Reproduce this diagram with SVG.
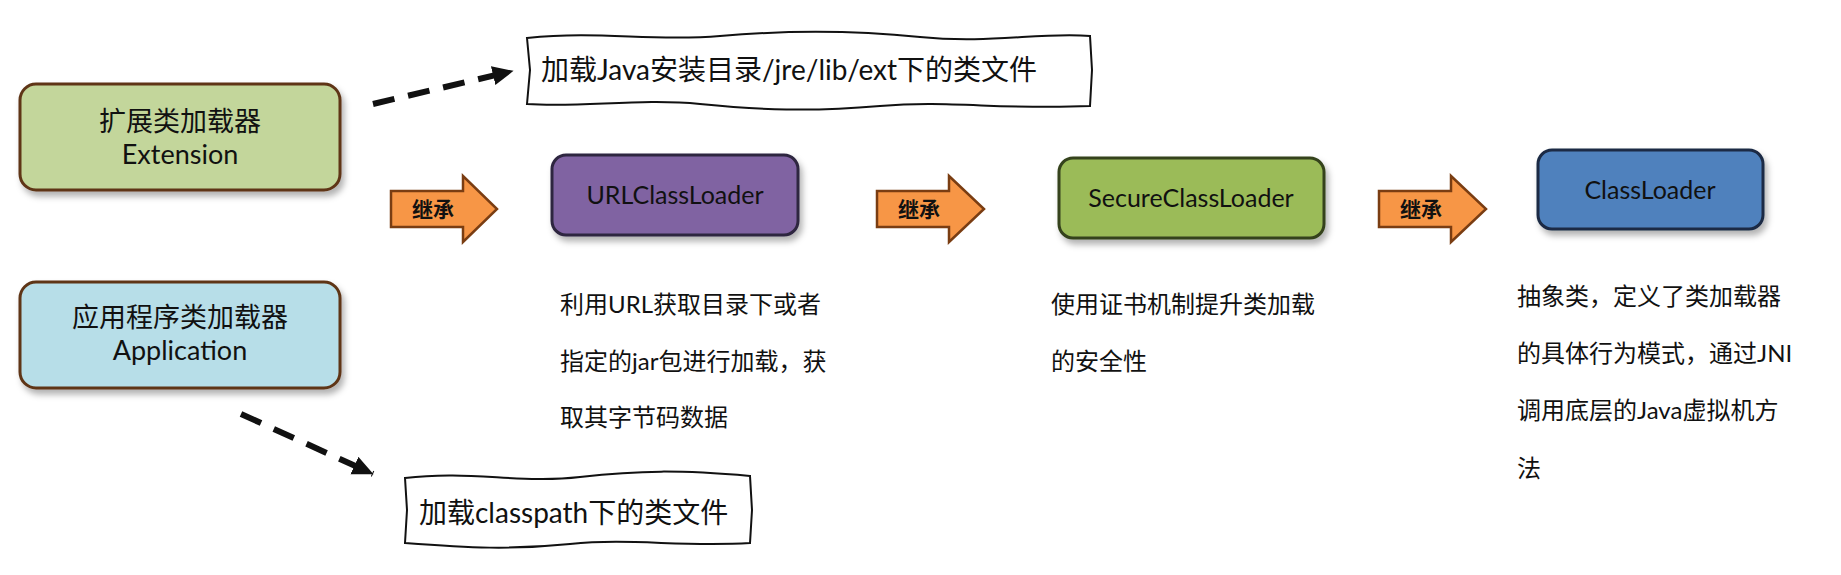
<svg xmlns="http://www.w3.org/2000/svg" width="1841" height="575" viewBox="0 0 1841 575">
<defs>
<filter id="sh" x="-10%" y="-10%" width="130%" height="140%">
<feDropShadow dx="3" dy="5" stdDeviation="3" flood-color="#000" flood-opacity="0.3"/>
</filter>
<marker id="ah" markerWidth="4" markerHeight="4" refX="3.4" refY="1.6" orient="auto" markerUnits="strokeWidth">
<path d="M0,0 L3.5,1.6 L0,3.2 Z" fill="#111"/>
</marker>
<style>
.t{font-family:Lato,"Noto Sans CJK SC",sans-serif;fill:#111}
.c{text-anchor:middle}
.lb{font-size:27px}
.nb{font-size:25px}
.d{font-size:24px}
.sk{fill:#fff;stroke:#111;stroke-width:2}
.dash{fill:none;stroke:#111;stroke-width:6;stroke-dasharray:22 14}
.inh{fill:#f79646;stroke:#7a3d12;stroke-width:2.5}
.it{font-family:"Noto Sans CJK SC",sans-serif;font-weight:bold;font-size:21px;fill:#111;text-anchor:middle}
</style>
</defs>
<rect width="1841" height="575" fill="#fff"/>

<g id="connectors">
<path class="dash" d="M373,104 L513,71" marker-end="url(#ah)"/>
<path class="dash" d="M241,414 L373,474" marker-end="url(#ah)"/>
<g id="inh1"><path class="inh" d="M391,191 L463,191 L463,176 L497,209 L463,242 L463,227 L391,227 Z"/><text class="it" x="433" y="217">继承</text></g>
<g id="inh2"><path class="inh" d="M877,191 L949,191 L949,176 L984,209 L949,242 L949,227 L877,227 Z"/><text class="it" x="919" y="217">继承</text></g>
<g id="inh3"><path class="inh" d="M1379,191 L1451,191 L1451,176 L1486,209 L1451,242 L1451,227 L1379,227 Z"/><text class="it" x="1421" y="217">继承</text></g>
</g>

<g id="extension">
<rect x="20" y="84" width="320" height="106" rx="16" fill="#c3d69b" stroke="#5e3517" stroke-width="3" filter="url(#sh)"/>
<text class="t c lb" x="180" y="131">扩展类加载器</text>
<text class="t c lb" x="180" y="164">Extension</text>
</g>

<g id="application">
<rect x="20" y="282" width="320" height="106" rx="16" fill="#b7dee8" stroke="#5e3517" stroke-width="3" filter="url(#sh)"/>
<text class="t c lb" x="180" y="327">应用程序类加载器</text>
<text class="t c lb" x="180" y="360">Application</text>
</g>

<g id="note-ext">
<path class="sk" d="M527,38 C600,30 650,42 720,36 S850,30 920,37 S1040,32 1090,36 L1092,70 L1090,106 C1000,110 950,100 880,106 S760,110 700,104 S580,108 527,104 L530,70 Z"/>
<text class="t" x="541" y="80" font-size="28">加载Java安装目录/jre/lib/ext下的类文件</text>
</g>

<g id="urlclassloader">
<rect x="552" y="155" width="246" height="80" rx="14" fill="#8064a2" stroke="#2e2640" stroke-width="3" filter="url(#sh)"/>
<text class="t c nb" x="675" y="204">URLClassLoader</text>
</g>

<g id="secureclassloader">
<rect x="1059" y="158" width="265" height="80" rx="14" fill="#9bbb59" stroke="#34431c" stroke-width="3" filter="url(#sh)"/>
<text class="t c nb" x="1191" y="207">SecureClassLoader</text>
</g>

<g id="classloader">
<rect x="1538" y="150" width="225" height="79" rx="14" fill="#4f81bd" stroke="#1b2b44" stroke-width="3" filter="url(#sh)"/>
<text class="t c nb" x="1650" y="199">ClassLoader</text>
</g>

<g id="desc-url">
<text class="t d" x="560" y="313">利用URL获取目录下或者</text>
<text class="t d" x="560" y="370">指定的jar包进行加载，获</text>
<text class="t d" x="560" y="426">取其字节码数据</text>
</g>

<g id="desc-secure">
<text class="t d" x="1051" y="313">使用证书机制提升类加载</text>
<text class="t d" x="1051" y="370">的安全性</text>
</g>

<g id="desc-classloader">
<text class="t d" x="1517" y="305">抽象类，定义了类加载器</text>
<text class="t d" x="1517" y="362">的具体行为模式，通过JNI</text>
<text class="t d" x="1517" y="419">调用底层的Java虚拟机方</text>
<text class="t d" x="1517" y="477">法</text>
</g>

<g id="note-app">
<path class="sk" d="M405,478 C470,470 520,484 580,477 S680,470 750,476 L752,510 L750,543 C680,547 630,538 570,544 S470,548 405,543 L407,510 Z"/>
<text class="t" x="419" y="523" font-size="28">加载classpath下的类文件</text>
</g>
</svg>
